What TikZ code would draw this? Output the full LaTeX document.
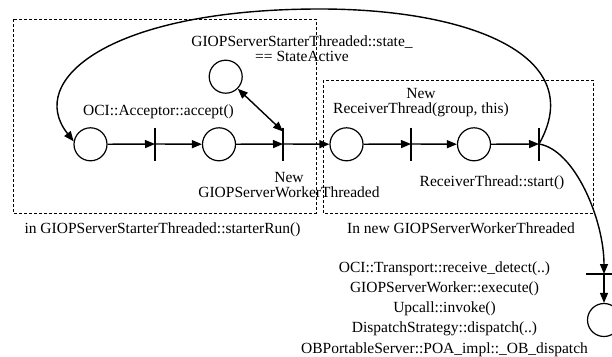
\documentclass[tikz,border=0pt]{standalone}
\usepackage{fontspec}
\setmainfont{Liberation Serif}
\usetikzlibrary{arrows.meta}
\begin{document}
\begin{tikzpicture}[x=1pt,y=-1pt,
  state/.style={circle,draw,line width=1.2pt,minimum size=33pt,inner sep=0pt},
  vbar/.style={rectangle,minimum width=0pt,minimum height=33pt,inner sep=0pt,outer sep=0pt},
  hbar/.style={rectangle,minimum width=36pt,minimum height=0pt,inner sep=0pt,outer sep=0pt},
  barline/.style={line width=1.5pt},
  flow/.style={line width=1.4pt,-{Triangle[length=10pt,width=8pt]}},
  both/.style={line width=1.4pt,{Triangle[length=10pt,width=8pt]}-{Triangle[length=10pt,width=8pt]}},
  region/.style={draw,line width=0.7pt,dash pattern=on 3pt off 2pt},
  lbl/.style={font=\fontsize{15.5}{15}\selectfont,align=center,inner sep=0pt,anchor=base},
]
\useasboundingbox (0,0) rectangle (612,356);

% dashed regions
\draw[region] (13,19) rectangle (316,213);
\draw[region] (323,80) rectangle (593,213);

% states
\node[state] (c1) at (90.5,144.3) {};
\node[state] (c2) at (219,144.3) {};
\node[state] (ctop) at (225.7,76.7) {};
\node[state] (c3) at (346.5,144.3) {};
\node[state] (c4) at (474,144.3) {};
\node[state] (c5) at (604,320) {};

% bars
\node[vbar] (b1) at (155,144) {};
\node[vbar] (b2) at (283,144) {};
\node[vbar] (b3) at (411,144) {};
\node[vbar] (b4) at (539,144) {};
\node[hbar] (b5) at (604,274) {};
\foreach \b in {b1,b2,b3,b4} \draw[barline] (\b.north) -- (\b.south);
\draw[barline] (b5.west) -- (b5.east);

% flows
\draw[flow] (c1) -- (b1);
\draw[flow] (b1) -- (c2);
\draw[flow] (c2) -- (b2);
\draw[flow] (b2) -- (c3);
\draw[flow] (c3) -- (b3);
\draw[flow] (b3) -- (c4);
\draw[flow] (c4) -- (b4);
\draw[both] (ctop.-45) -- ([yshift=-4pt]b2.north);
\coordinate (looptop) at (320,9);
\draw[flow] (b4) .. controls (589,56) and (470,9) .. (looptop)
  .. controls (110,9) and (25,80) .. (c1.170);
\draw[flow] (b4) .. controls (575,150) and (604,220) .. (b5);
\draw[flow] (b5) -- (c5);

% labels (anchor base = baseline of the last line)
\node[lbl] (tstate) at (302,61.7) {GIOPServerStarterThreaded::state\_\\== StateActive};
\node[lbl] (tacc) at (158.5,115) {OCI::Acceptor::accept()};
\node[lbl] (trecv) at (421,113.3) {New\\ReceiverThread(group, this)};
\node[lbl] (tworker) at (289,197.3) {New\\GIOPServerWorkerThreaded};
\node[lbl] (tstart) at (492,186) {ReceiverThread::start()};
\node[lbl] (tin1) at (162.5,233.5) {in GIOPServerStarterThreaded::starterRun()};
\node[lbl] (tin2) at (461,233.5) {In new GIOPServerWorkerThreaded};
\node[lbl,font=\fontsize{15.5}{20.2}\selectfont] (tcalls) at (444.5,353)
  {OCI::Transport::receive\_detect(..)\\GIOPServerWorker::execute()\\Upcall::invoke()\\DispatchStrategy::dispatch(..)\\OBPortableServer::POA\_impl::\_OB\_dispatch};
\end{tikzpicture}
\end{document}
